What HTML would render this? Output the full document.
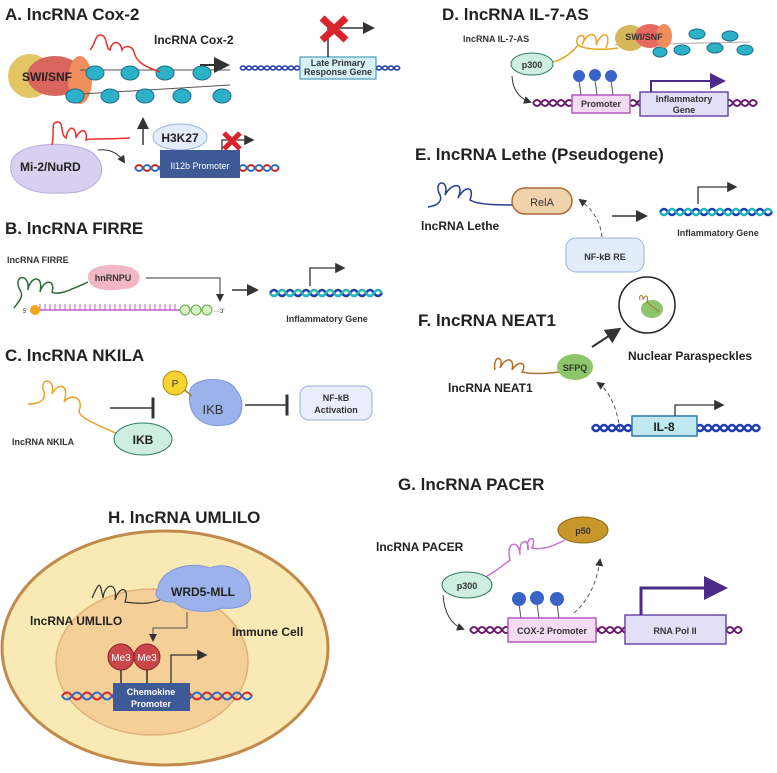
<!DOCTYPE html>
<html><head><meta charset="utf-8"><style>
html,body{margin:0;padding:0;background:#fff}
svg{display:block}
text{font-family:"Liberation Sans",sans-serif}
.t{font-size:17px;font-weight:bold;fill:#222}
.l{font-size:12px;font-weight:bold;fill:#222}
.s{font-size:9px;font-weight:bold;fill:#333}
</style></head><body>
<svg width="777" height="773" viewBox="0 0 777 773" xmlns="http://www.w3.org/2000/svg">
<defs>
<marker id="ar" markerWidth="8" markerHeight="8" refX="6" refY="4" orient="auto"><path d="M0 0L8 4L0 8z" fill="#333"/></marker>
<marker id="arp" markerWidth="8" markerHeight="8" refX="6" refY="4" orient="auto"><path d="M0 0L8 4L0 8z" fill="#4b2a8a"/></marker>
<marker id="tb" markerWidth="4" markerHeight="14" refX="2" refY="7" orient="auto"><rect x="1" y="0" width="2" height="14" fill="#333"/></marker>
</defs>

<!-- A -->
<text x="5" y="20" class="t">A. lncRNA Cox-2</text>
<text x="154" y="44" class="l">lncRNA Cox-2</text>
<ellipse cx="30" cy="76" rx="22" ry="22" fill="#e3c564"/>
<ellipse cx="55" cy="76" rx="28" ry="20" fill="#d9655f"/>
<ellipse cx="80" cy="80" rx="12" ry="24" fill="#ef8e5c"/>
<text x="22" y="81" class="l" font-size="13">SWI/SNF</text>
<path d="M65 95 L230 85 M80 70 L230 70" stroke="#555" stroke-width="1" fill="none"/>
<g fill="#2bb1c8" stroke="#1f6c8a" stroke-width="1">
<ellipse cx="95" cy="73" rx="9" ry="7"/><ellipse cx="130" cy="73" rx="9" ry="7"/><ellipse cx="165" cy="73" rx="9" ry="7"/><ellipse cx="202" cy="73" rx="9" ry="7"/>
<ellipse cx="75" cy="96" rx="9" ry="7"/><ellipse cx="110" cy="96" rx="9" ry="7"/><ellipse cx="145" cy="96" rx="9" ry="7"/><ellipse cx="182" cy="96" rx="9" ry="7"/><ellipse cx="222" cy="96" rx="9" ry="7"/>
</g>
<path d="M90 50 C95 45 95 35 100 35 C108 35 105 48 110 50 C112 40 120 40 122 50 C124 45 132 45 134 52 C136 60 140 65 160 72" stroke="#e8302b" stroke-width="1.5" fill="none"/>
<line x1="200" y1="65" x2="226" y2="65" stroke="#333" stroke-width="2" marker-end="url(#ar)"/>
<path d="M240 68 q3 -4 6 0 t6 0 t6 0 t6 0 t6 0 t6 0 t6 0 t6 0 t6 0 t6 0 M240 68 q3 4 6 0 t6 0 t6 0 t6 0 t6 0 t6 0 t6 0 t6 0 t6 0 t6 0" stroke="#1f3ea8" stroke-width="1.5" fill="none"/>
<path d="M376 68 q3 -4 6 0 t6 0 t6 0 t6 0 M376 68 q3 4 6 0 t6 0 t6 0 t6 0" stroke="#1f3ea8" stroke-width="1.5" fill="none"/>
<rect x="300" y="57" width="76" height="22" fill="#d6f1f5" stroke="#2a8aa8"/>
<text x="338" y="66" class="s" font-size="7" text-anchor="middle">Late Primary</text>
<text x="338" y="75" class="s" font-size="7" text-anchor="middle">Response Gene</text>
<path d="M328 57 V28 H372" stroke="#333" stroke-width="1.5" fill="none" marker-end="url(#ar)"/>
<path d="M322 18 L346 40 M346 18 L322 40" stroke="#d8242a" stroke-width="7"/>
<path d="M12 160 C20 140 80 140 95 155 C110 170 100 195 60 193 C25 195 5 180 12 160z" fill="#d8d0ef" stroke="#b7abd8"/>
<text x="20" y="171" class="l" font-size="13">Mi-2/NuRD</text>
<path d="M52 145 C55 130 50 122 58 122 C64 122 60 135 66 138 C68 125 76 125 76 138 C80 128 88 128 86 140 C90 138 98 140 130 138" stroke="#e8302b" stroke-width="1.5" fill="none"/>
<path d="M98 150 Q115 148 124 162" stroke="#333" fill="none" marker-end="url(#ar)"/>
<line x1="143" y1="145" x2="143" y2="120" stroke="#333" stroke-width="1.5" marker-end="url(#ar)"/>
<path d="M135 168 q4 -6 8 0 t8 0 t8 0 t8 0 t8 0 t8 0 t8 0 t8 0 t8 0 t8 0 t8 0 t8 0 t8 0 t8 0 t8 0 t8 0 t8 0 t8 0" stroke="#d8242a" stroke-width="2" fill="none"/>
<path d="M135 168 q4 6 8 0 t8 0 t8 0 t8 0 t8 0 t8 0 t8 0 t8 0 t8 0 t8 0 t8 0 t8 0 t8 0 t8 0 t8 0 t8 0 t8 0 t8 0" stroke="#2a6cc8" stroke-width="2" fill="none"/>
<ellipse cx="180" cy="137" rx="27" ry="13" fill="#e3ecfb" stroke="#9ab2dc"/>
<text x="180" y="142" class="l" font-size="13" text-anchor="middle">H3K27</text>
<rect x="160" y="150" width="80" height="28" fill="#3d5a96"/>
<text x="200" y="169" font-size="9" fill="#fff" text-anchor="middle" font-family="Liberation Sans">Il12b Promoter</text>
<path d="M222 150 V140 H252" stroke="#333" stroke-width="1.3" fill="none" marker-end="url(#ar)"/>
<path d="M224 133 L240 149 M240 133 L224 149" stroke="#d8242a" stroke-width="5"/>

<!-- B -->
<text x="5" y="234" class="t">B. lncRNA FIRRE</text>
<text x="7" y="263" class="s" font-size="9">lncRNA FIRRE</text>
<path d="M88 278 C86 266 110 262 130 267 C145 272 142 288 125 289 C105 292 90 290 88 278z" fill="#f1b7c5"/>
<text x="113" y="281" class="s" font-size="9" text-anchor="middle">hnRNPU</text>
<path d="M14 308 C20 300 24 296 20 290 C12 275 30 272 28 290 C30 276 44 274 40 292 C44 278 56 280 52 292 C58 296 70 290 88 282" stroke="#2e6a3a" stroke-width="1.5" fill="none"/>
<line x1="35" y1="310" x2="180" y2="310" stroke="#c060c0" stroke-width="1.5"/>
<path d="M40 310 V304 M45 310 V304 M50 310 V304 M55 310 V304 M60 310 V304 M65 310 V304 M70 310 V304 M75 310 V304 M80 310 V304 M85 310 V304 M90 310 V304 M95 310 V304 M100 310 V304 M105 310 V304 M110 310 V304 M115 310 V304 M120 310 V304 M125 310 V304 M130 310 V304 M135 310 V304 M140 310 V304 M145 310 V304 M150 310 V304 M155 310 V304 M160 310 V304 M165 310 V304 M170 310 V304 M175 310 V304" stroke="#c060c0" stroke-width="1"/>
<circle cx="35" cy="310" r="5" fill="#f2a619"/>
<text x="23" y="313" font-size="6" fill="#333" font-family="Liberation Sans">5'</text>
<circle cx="185" cy="310" r="5" fill="#d7f0c6" stroke="#6aa84f"/><circle cx="196" cy="310" r="5" fill="#d7f0c6" stroke="#6aa84f"/><circle cx="207" cy="310" r="5" fill="#d7f0c6" stroke="#6aa84f"/>
<text x="214" y="313" font-size="6" fill="#333" font-family="Liberation Sans">···3'</text>
<path d="M146 278 H220 V300" stroke="#333" fill="none" marker-end="url(#ar)"/>
<line x1="232" y1="290" x2="256" y2="290" stroke="#333" stroke-width="1.5" marker-end="url(#ar)"/>
<path d="M270 293 q4 -6 8 0 t8 0 t8 0 t8 0 t8 0 t8 0 t8 0 t8 0 t8 0 t8 0 t8 0 t8 0 t8 0 t8 0" stroke="#1f3ea8" stroke-width="2.5" fill="none"/>
<path d="M270 293 q4 6 8 0 t8 0 t8 0 t8 0 t8 0 t8 0 t8 0 t8 0 t8 0 t8 0 t8 0 t8 0 t8 0 t8 0" stroke="#23b5b5" stroke-width="2.5" fill="none"/>
<path d="M310 286 V268 H343" stroke="#333" stroke-width="1.3" fill="none" marker-end="url(#ar)"/>
<text x="327" y="322" class="s" text-anchor="middle">Inflammatory Gene</text>

<!-- C -->
<text x="5" y="361" class="t">C. lncRNA NKILA</text>
<path d="M28 404 C40 404 46 400 44 392 C38 378 56 376 52 394 C58 382 70 384 64 402 C70 394 82 396 80 408 C76 415 85 420 118 434" stroke="#e8a42a" stroke-width="1.5" fill="none"/>
<text x="12" y="445" class="s" font-size="9">lncRNA NKILA</text>
<ellipse cx="143" cy="439" rx="29" ry="16" fill="#cdeee0" stroke="#2b7a5a"/>
<text x="143" y="444" class="l" text-anchor="middle">IKB</text>
<line x1="110" y1="408" x2="153" y2="408" stroke="#333" stroke-width="1.5" marker-end="url(#tb)"/>
<path d="M190 390 C195 376 230 376 236 390 C246 400 244 424 225 425 C205 428 186 418 190 390z" fill="#9bb2ea" stroke="#7f97d8"/>
<text x="213" y="414" font-size="13" fill="#333" text-anchor="middle" font-family="Liberation Sans">IKB</text>
<line x1="182" y1="388" x2="192" y2="396" stroke="#a08a20" stroke-width="1.5"/>
<circle cx="175" cy="383" r="12" fill="#f6d331" stroke="#b09000"/>
<text x="175" y="387" font-size="10" text-anchor="middle" font-family="Liberation Sans" fill="#333">P</text>
<line x1="245" y1="405" x2="287" y2="405" stroke="#333" stroke-width="1.5" marker-end="url(#tb)"/>
<rect x="300" y="386" width="72" height="34" rx="9" fill="#e8eefc" stroke="#9ab2dc"/>
<text x="336" y="401" class="s" text-anchor="middle">NF-kB</text>
<text x="336" y="413" class="s" text-anchor="middle">Activation</text>

<!-- D -->
<text x="442" y="20" class="t">D. lncRNA IL-7-AS</text>
<text x="463" y="42" class="s" font-size="10">lncRNA IL-7-AS</text>
<path d="M615 45 L750 42" stroke="#aaa" fill="none"/>
<g fill="#2bb1c8" stroke="#1f6c8a"><ellipse cx="663" cy="38" rx="8" ry="5"/><ellipse cx="697" cy="34" rx="8" ry="5"/><ellipse cx="730" cy="36" rx="8" ry="5"/><ellipse cx="682" cy="50" rx="8" ry="5"/><ellipse cx="715" cy="48" rx="8" ry="5"/><ellipse cx="745" cy="50" rx="8" ry="5"/><ellipse cx="660" cy="52" rx="7" ry="5"/></g>
<ellipse cx="630" cy="38" rx="15" ry="13" fill="#d6b85a"/><ellipse cx="650" cy="36" rx="15" ry="12" fill="#e66a62"/><ellipse cx="664" cy="36" rx="8" ry="12" fill="#ef8e5c"/>
<text x="644" y="40" class="s" font-size="9" text-anchor="middle">SWI/SNF</text>
<path d="M618 48 C605 50 585 50 578 45 C572 35 590 30 582 45 C588 30 598 32 596 45 C602 30 612 32 606 48 M578 45 C570 55 560 60 553 62" stroke="#e8a42a" stroke-width="1.5" fill="none"/>
<ellipse cx="532" cy="64" rx="21" ry="11" fill="#cdeee0" stroke="#2b7a5a"/>
<text x="532" y="68" class="s" font-size="10" text-anchor="middle">p300</text>
<path d="M512 76 Q513 96 530 102" stroke="#333" fill="none" marker-end="url(#ar)"/>
<path d="M533 103 q4 -6 8 0 t8 0 t8 0 t8 0 t8 0 t8 0 t8 0 t8 0 t8 0 t8 0 t8 0 t8 0 t8 0 t8 0 t8 0 t8 0 t8 0 t8 0 t8 0 t8 0 t8 0 t8 0 t8 0 t8 0 t8 0 t8 0 t8 0 t8 0" stroke="#6a1a6a" stroke-width="2" fill="none"/>
<path d="M533 103 q4 6 8 0 t8 0 t8 0 t8 0 t8 0 t8 0 t8 0 t8 0 t8 0 t8 0 t8 0 t8 0 t8 0 t8 0 t8 0 t8 0 t8 0 t8 0 t8 0 t8 0 t8 0 t8 0 t8 0 t8 0 t8 0 t8 0 t8 0 t8 0" stroke="#6a1a6a" stroke-width="2" fill="none"/>
<g stroke="#555"><line x1="579" y1="80" x2="581" y2="95"/><line x1="595" y1="80" x2="597" y2="95"/><line x1="611" y1="80" x2="613" y2="95"/></g>
<g fill="#3a63c8"><circle cx="579" cy="76" r="6"/><circle cx="595" cy="75" r="6"/><circle cx="611" cy="76" r="6"/></g>
<rect x="572" y="95" width="58" height="18" fill="#f2dcf2" stroke="#b35ab8" stroke-width="1.5"/>
<text x="601" y="107" class="s" text-anchor="middle">Promoter</text>
<rect x="640" y="92" width="88" height="24" fill="#e3dff7" stroke="#6a4aa8" stroke-width="1.5"/>
<text x="684" y="102" class="s" text-anchor="middle">Inflammatory</text>
<text x="684" y="113" class="s" text-anchor="middle">Gene</text>
<path d="M651 92 V81 H722" stroke="#4b2a8a" stroke-width="2" fill="none" marker-end="url(#arp)"/>

<!-- E -->
<text x="415" y="160" class="t">E. lncRNA Lethe (Pseudogene)</text>
<path d="M428 207 C440 205 442 200 440 195 C432 180 450 178 445 195 C452 182 465 182 458 198 C465 185 475 186 470 200 C478 205 500 205 515 205" stroke="#233d8f" stroke-width="1.5" fill="none"/>
<rect x="512" y="188" width="60" height="26" rx="13" fill="#f0d2ac" stroke="#a96a36" stroke-width="1.5"/>
<text x="542" y="206" font-size="11" fill="#333" text-anchor="middle" font-family="Liberation Sans">RelA</text>
<text x="421" y="230" class="l" font-size="13">lncRNA Lethe</text>
<path d="M602 237 Q600 215 580 200" stroke="#555" stroke-dasharray="4 3" fill="none" marker-end="url(#ar)"/>
<rect x="566" y="238" width="78" height="34" rx="10" fill="#e3ecfb" stroke="#9ab2dc"/>
<text x="605" y="260" class="s" font-size="10" text-anchor="middle">NF-kB RE</text>
<line x1="612" y1="216" x2="645" y2="216" stroke="#333" stroke-width="1.5" marker-end="url(#ar)"/>
<path d="M660 212 q4 -6 8 0 t8 0 t8 0 t8 0 t8 0 t8 0 t8 0 t8 0 t8 0 t8 0 t8 0 t8 0 t8 0 t8 0" stroke="#1f3ea8" stroke-width="2.5" fill="none"/>
<path d="M660 212 q4 6 8 0 t8 0 t8 0 t8 0 t8 0 t8 0 t8 0 t8 0 t8 0 t8 0 t8 0 t8 0 t8 0 t8 0" stroke="#23b5b5" stroke-width="2.5" fill="none"/>
<path d="M698 204 V187 H735" stroke="#333" stroke-width="1.3" fill="none" marker-end="url(#ar)"/>
<text x="718" y="236" class="s" font-size="8" text-anchor="middle">Inflammatory Gene</text>

<!-- F -->
<text x="418" y="326" class="t">F. lncRNA NEAT1</text>
<circle cx="647" cy="305" r="28" fill="#fff" stroke="#222" stroke-width="1.5"/>
<ellipse cx="652" cy="309" rx="11" ry="9" fill="#8cc56a"/>
<path d="M640 300 c-2 -6 4 -6 3 0 c2 -6 6 -5 4 2 c4 4 8 6 12 10" stroke="#b0702a" fill="none"/>
<text x="628" y="360" class="l" font-size="13">Nuclear Paraspeckles</text>
<path d="M495 370 C492 355 505 355 500 368 C506 356 515 358 512 370 C518 360 528 362 522 372 C530 374 545 374 560 372" stroke="#b0702a" stroke-width="1.5" fill="none"/>
<ellipse cx="575" cy="367" rx="18" ry="13" fill="#8cc56a"/>
<text x="575" y="371" class="s" text-anchor="middle">SFPQ</text>
<line x1="592" y1="347" x2="618" y2="330" stroke="#333" stroke-width="2" marker-end="url(#ar)"/>
<text x="448" y="392" class="l" font-size="13">lncRNA NEAT1</text>
<path d="M620 430 Q615 395 598 383" stroke="#555" stroke-dasharray="4 3" fill="none" marker-end="url(#ar)"/>
<path d="M592 428 q4 -6 8 0 t8 0 t8 0 t8 0 t8 0 t8 0 t8 0 t8 0 t8 0 t8 0 t8 0 t8 0 t8 0 t8 0 t8 0 t8 0 t8 0 t8 0 t8 0 t8 0 t8 0" stroke="#1f3ea8" stroke-width="2.5" fill="none"/>
<path d="M592 428 q4 6 8 0 t8 0 t8 0 t8 0 t8 0 t8 0 t8 0 t8 0 t8 0 t8 0 t8 0 t8 0 t8 0 t8 0 t8 0 t8 0 t8 0 t8 0 t8 0 t8 0 t8 0" stroke="#1f3ea8" stroke-width="2.5" fill="none"/>
<rect x="632" y="416" width="65" height="20" fill="#bfe8f0" stroke="#2a7aa8" stroke-width="1.5"/>
<text x="664" y="431" class="l" font-size="12" text-anchor="middle">IL-8</text>
<path d="M675 416 V405 H722" stroke="#333" stroke-width="1.3" fill="none" marker-end="url(#ar)"/>

<!-- G -->
<text x="398" y="490" class="t">G. lncRNA PACER</text>
<text x="376" y="551" class="l" font-size="12">lncRNA PACER</text>
<ellipse cx="583" cy="530" rx="25" ry="13" fill="#c9962a" stroke="#8a6a1a"/>
<text x="583" y="534" class="s" font-size="10" fill="#fff" text-anchor="middle">p50</text>
<path d="M565 540 C550 548 540 550 532 548 C538 535 525 535 528 550 C530 538 518 538 520 555 C520 540 505 540 510 560 C500 568 490 575 480 580" stroke="#c870d0" stroke-width="1.5" fill="none"/>
<ellipse cx="467" cy="585" rx="25" ry="13" fill="#cdeee0" stroke="#2b7a5a"/>
<text x="467" y="589" class="s" font-size="10" text-anchor="middle">p300</text>
<path d="M443 595 Q445 622 463 629" stroke="#333" fill="none" marker-end="url(#ar)"/>
<path d="M470 630 q4 -6 8 0 t8 0 t8 0 t8 0 t8 0 t8 0 t8 0 t8 0 t8 0 t8 0 t8 0 t8 0 t8 0 t8 0 t8 0 t8 0 t8 0 t8 0 t8 0 t8 0 t8 0 t8 0 t8 0 t8 0 t8 0 t8 0 t8 0 t8 0 t8 0 t8 0 t8 0 t8 0 t8 0 t8 0" stroke="#6a1a6a" stroke-width="2" fill="none"/>
<path d="M470 630 q4 6 8 0 t8 0 t8 0 t8 0 t8 0 t8 0 t8 0 t8 0 t8 0 t8 0 t8 0 t8 0 t8 0 t8 0 t8 0 t8 0 t8 0 t8 0 t8 0 t8 0 t8 0 t8 0 t8 0 t8 0 t8 0 t8 0 t8 0 t8 0 t8 0 t8 0 t8 0 t8 0 t8 0 t8 0" stroke="#6a1a6a" stroke-width="2" fill="none"/>
<g stroke="#555"><line x1="519" y1="604" x2="521" y2="618"/><line x1="537" y1="604" x2="539" y2="618"/><line x1="557" y1="604" x2="559" y2="618"/></g>
<g fill="#3a63c8"><circle cx="519" cy="599" r="7"/><circle cx="537" cy="598" r="7"/><circle cx="557" cy="599" r="7"/></g>
<path d="M574 613 Q595 595 600 560" stroke="#555" stroke-dasharray="4 3" fill="none" marker-end="url(#ar)"/>
<rect x="508" y="618" width="88" height="24" fill="#f5dcf5" stroke="#b35ab8" stroke-width="1.5"/>
<text x="552" y="634" class="s" font-size="9.5" text-anchor="middle">COX-2 Promoter</text>
<rect x="625" y="615" width="101" height="29" fill="#e3dff7" stroke="#6a4aa8" stroke-width="1.5"/>
<text x="675" y="634" class="s" font-size="10" text-anchor="middle">RNA Pol II</text>
<path d="M641 615 V588 H722" stroke="#4b2a8a" stroke-width="3" fill="none" marker-end="url(#arp)"/>

<!-- H -->
<text x="108" y="523" class="t">H. lncRNA UMLILO</text>
<ellipse cx="165" cy="648" rx="163" ry="117" fill="#f9eab5" stroke="#c28a4a" stroke-width="3"/>
<ellipse cx="152" cy="662" rx="96" ry="73" fill="#f5cf98" stroke="#e2b07a" stroke-width="1.5"/>
<path d="M92 598 C100 580 100 582 103 598 C105 582 118 582 115 600 C120 584 130 588 125 602 C140 604 150 604 160 600" stroke="#333" stroke-width="1.2" fill="none"/>
<path d="M158 588 C160 570 190 560 210 568 C230 560 252 575 250 592 C255 605 235 610 222 608 C205 615 180 610 175 602 C160 603 152 596 158 588z" fill="#9bb2ea" stroke="#7f97d8"/>
<text x="203" y="596" class="l" font-size="12" text-anchor="middle">WRD5-MLL</text>
<text x="30" y="625" class="l" font-size="12">lncRNA UMLILO</text>
<text x="232" y="636" class="l" font-size="12">Immune Cell</text>
<path d="M187 612 V628 H153 V640" stroke="#555" fill="none" marker-end="url(#ar)"/>
<path d="M62 696 q5 -7 10 0 t10 0 t10 0 t10 0 t10 0 t10 0 t10 0 t10 0 t10 0 t10 0 t10 0 t10 0 t10 0 t10 0 t10 0 t10 0 t10 0 t10 0 t10 0" stroke="#d8242a" stroke-width="2" fill="none"/>
<path d="M62 696 q5 7 10 0 t10 0 t10 0 t10 0 t10 0 t10 0 t10 0 t10 0 t10 0 t10 0 t10 0 t10 0 t10 0 t10 0 t10 0 t10 0 t10 0 t10 0 t10 0" stroke="#2a6cc8" stroke-width="2" fill="none"/>
<line x1="121" y1="665" x2="121" y2="683" stroke="#333" stroke-width="1.5"/><line x1="147" y1="665" x2="147" y2="683" stroke="#333" stroke-width="1.5"/>
<circle cx="121" cy="657" r="13" fill="#c9474a" stroke="#8a2224"/><circle cx="147" cy="657" r="13" fill="#c9474a" stroke="#8a2224"/>
<text x="121" y="661" font-size="10" fill="#fff" text-anchor="middle" font-family="Liberation Sans">Me3</text>
<text x="147" y="661" font-size="10" fill="#fff" text-anchor="middle" font-family="Liberation Sans">Me3</text>
<rect x="113" y="683" width="77" height="28" fill="#3d5a96"/>
<text x="151" y="695" font-size="9" font-weight="bold" fill="#fff" text-anchor="middle" font-family="Liberation Sans">Chemokine</text>
<text x="151" y="707" font-size="9" font-weight="bold" fill="#fff" text-anchor="middle" font-family="Liberation Sans">Promoter</text>
<path d="M171 683 V655 H205" stroke="#333" stroke-width="1.3" fill="none" marker-end="url(#ar)"/>
</svg>
</body></html>
